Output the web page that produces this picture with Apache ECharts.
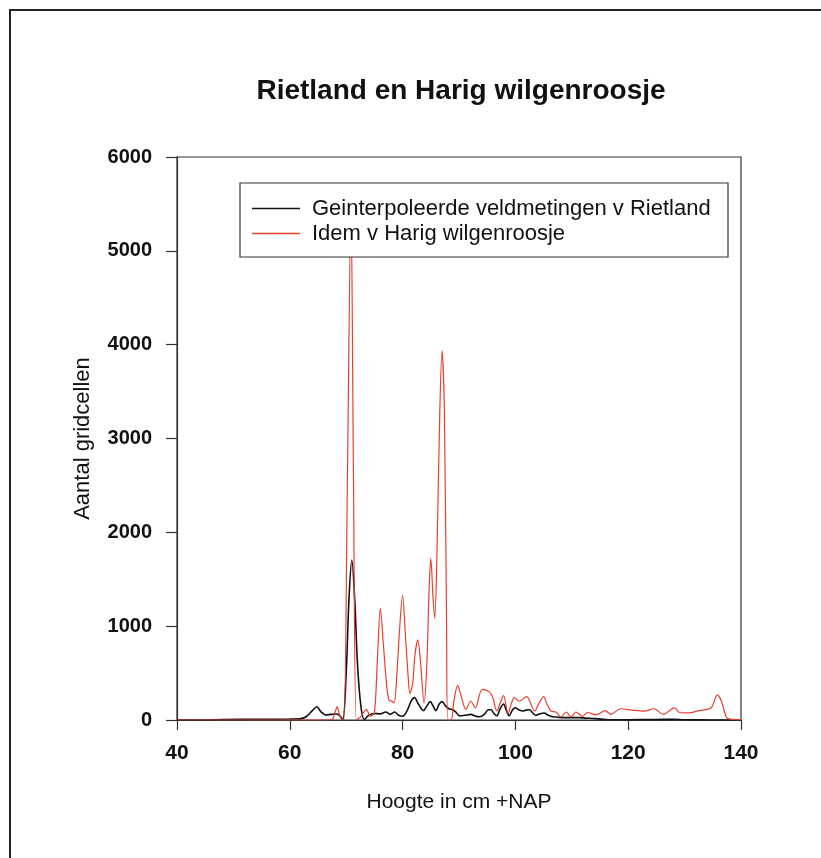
<!DOCTYPE html>
<html>
<head>
<meta charset="utf-8">
<script src="https://cdn.jsdelivr.net/npm/echarts@6/dist/echarts.min.js"></script>
<style>
html,body{margin:0;padding:0;background:#fff;}
#chart{width:821px;height:858px;}
</style>
</head>
<body>
<div id="chart"></div>
<script>
// Rietland (black) : height (cm +NAP) and number of grid cells
const blackX = [40,45,48,55,60,62,63,64,64.8,65.5,66.4,67.3,68.2,68.8,69.4,70.0,70.5,71.0,71.5,72.0,72.6,73.2,74,75,76,77,77.8,78.6,79.3,80,80.8,81.5,82.1,82.8,83.7,84.3,84.9,85.4,85.9,86.5,87.0,87.6,88.3,88.9,89.5,90.1,91,92.1,93,93.6,94.5,95.2,95.7,96.2,96.7,97.3,97.9,98.4,98.9,99.5,100,100.6,101.3,101.9,102.5,103,103.6,104.3,105.1,105.8,106.6,107.5,108.4,110,111.3,112.5,114.3,116,117,120,125,128,130,135,140];
const blackY = [0,0,5,8,10,15,40,100,142,90,53,60,64,50,5,500,1300,1705,1300,600,150,5,50,70,65,85,60,85,50,40,100,200,238,170,100,150,196,150,100,170,196,150,117,110,80,44,50,60,40,35,60,110,110,70,45,120,170,100,45,110,130,110,96,105,110,80,50,65,75,50,35,30,25,25,25,20,15,5,2,3,5,8,3,0,0];
// Harig wilgenroosje (red)
const redX = [40,60,66,67.5,68,68.4,68.8,69.2,69.6,70.2,70.85,71.3,71.8,72.5,73.6,74.3,75,75.5,76.05,76.6,77.2,77.6,78.1,78.5,79.0,79.5,80.0,80.5,81.0,81.3,81.8,82.2,82.7,83.2,83.8,84.3,84.7,85.0,85.4,85.7,86.1,86.6,87.0,87.4,87.8,88.0,88.6,89.1,89.75,90.4,91.2,92.1,92.9,94.1,95.4,96.0,96.7,97.3,97.9,98.7,99.3,99.8,100.7,102.0,103.4,104.2,105.0,105.6,106.3,107.2,108.1,109.0,109.9,110.7,111.9,112.8,114.3,115.9,116.9,118.7,120.8,122.9,124.6,126.2,128.2,129.1,130.6,132.6,134.7,135.8,136.5,137.4,138,139,140];
const redY = [0,0,0,5,80,140,60,5,0,2500,5500,2500,0,30,110,40,80,600,1190,800,350,210,200,180,500,1000,1332,900,450,280,400,700,853,600,180,600,1400,1724,1300,1084,1800,3300,3937,3300,1000,0,0,200,370,250,114,200,130,327,300,238,96,180,260,70,180,240,200,250,96,180,250,170,96,85,32,85,32,85,40,80,55,100,60,120,105,95,120,60,130,80,75,100,130,267,203,30,10,5,5];
const xTicks = [40,60,80,100,120,140];
const yTicks = [0,1000,2000,3000,4000,5000,6000];
const seriesNames = ['Geinterpoleerde veldmetingen v Rietland','Idem v Harig wilgenroosje'];

const FONT = "'Liberation Sans', Arial, sans-serif";
const chart = echarts.init(document.getElementById('chart'), null, {renderer:'canvas'});
const pairs = (xs, ys) => xs.map((x,i)=>[x, ys[i]]);

chart.setOption({
  backgroundColor:'#fff',
  animation:false,
  title:{
    text:'Rietland en Harig wilgenroosje',
    left:456, top:72, textAlign:'center',
    textStyle:{fontFamily:FONT, fontSize:28, fontWeight:'bold', color:'#111'}
  },
  graphic:[
    {type:'rect', shape:{x:10,y:10,width:830,height:880}, style:{fill:null, stroke:'#222', lineWidth:2}, z:1, silent:true},
    {type:'rect', shape:{x:240,y:183,width:488,height:74}, style:{fill:'#fff', stroke:'#333', lineWidth:1.2}, z:10, silent:true}
  ],
  legend:{
    left:240, top:183, orient:'vertical', z:20,
    padding:[14.5,20,13,12], itemGap:3, itemWidth:48, itemHeight:1.4, icon:'rect',
    textStyle:{fontFamily:FONT, fontSize:22, color:'#111', padding:[0,0,0,7]},
    data:seriesNames
  },
  grid:{left:177, top:157, width:564, height:563, show:true, borderColor:'#333', borderWidth:1.2, outerBoundsMode:'none'},
  xAxis:{
    type:'value', min:40, max:140, interval:20,
    name:'Hoogte in cm +NAP', nameLocation:'middle', nameGap:72,
    nameTextStyle:{fontFamily:FONT, fontSize:21, color:'#111'},
    axisLine:{show:true, lineStyle:{color:'#333', width:1.2}},
    axisTick:{show:true, inside:false, length:10, lineStyle:{color:'#333', width:1.2}},
    axisLabel:{fontFamily:FONT, fontSize:21, fontWeight:'bold', color:'#111', margin:23,
      formatter:v=>xTicks.includes(v)?String(v):''},
    splitLine:{show:false}
  },
  yAxis:{
    type:'value', min:0, max:6000, interval:1000,
    name:'Aantal gridcellen', nameLocation:'middle', nameGap:83,
    nameTextStyle:{fontFamily:FONT, fontSize:22, color:'#111'},
    axisLine:{show:true, lineStyle:{color:'#333', width:1.2}},
    axisTick:{show:true, inside:false, length:11, lineStyle:{color:'#333', width:1.2}},
    axisLabel:{fontFamily:FONT, fontSize:20, fontWeight:'bold', color:'#111', margin:25,
      formatter:v=>yTicks.includes(v)?String(v):''},
    splitLine:{show:false}
  },
  series:[
    {name:seriesNames[0], type:'line', data:pairs(blackX, blackY), showSymbol:false, symbol:'none',
     smooth:0.3, clip:true, lineStyle:{color:'#111', width:1.6}, itemStyle:{color:'#111'}, z:3},
    {name:seriesNames[1], type:'line', data:pairs(redX, redY), showSymbol:false, symbol:'none',
     smooth:0.3, clip:true, lineStyle:{color:'#e8402f', width:1.2}, itemStyle:{color:'#e8402f'}, z:4}
  ]
});
</script>
</body>
</html>
